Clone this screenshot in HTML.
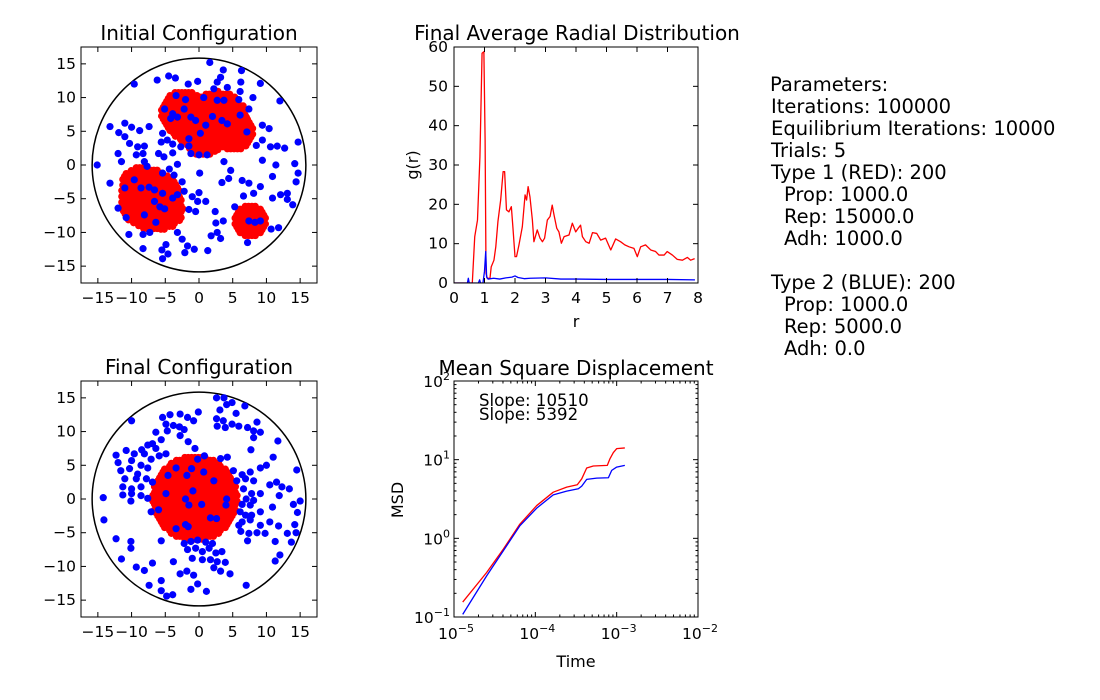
<!DOCTYPE html>
<html><head><meta charset="utf-8"><style>
html,body{margin:0;padding:0;background:#fff;}
svg{display:block;font-family:"DejaVu Sans","Liberation Sans",sans-serif;}
</style></head><body>
<svg id="fig" width="1100" height="700" viewBox="0 0 1100 700" xmlns="http://www.w3.org/2000/svg">
<rect width="1100" height="700" fill="#fff"/>
<g id="params" font-size="19.5" fill="#000">
<text x="770" y="91">Parameters:</text>
<text x="771" y="113">Iterations: 100000</text>
<text x="771" y="135">Equilibrium Iterations: 10000</text>
<text x="771" y="157">Trials: 5</text>
<text x="771" y="179">Type 1 (RED): 200</text>
<text x="784" y="201">Prop: 1000.0</text>
<text x="784" y="223">Rep: 15000.0</text>
<text x="784" y="245">Adh: 1000.0</text>
<text x="771" y="289">Type 2 (BLUE): 200</text>
<text x="784" y="311">Prop: 1000.0</text>
<text x="784" y="333">Rep: 5000.0</text>
<text x="784" y="355">Adh: 0.0</text>
</g>
</svg>
<script>
// ---------- data ----------
const initBlueX=[1.6,3.6,6.3,-6.2,-4.5,-3.5,-9.6,-1.6,-0.2,3.2,2.7,4.2,6.2,9.1,6.1,8.0,12.0,2.2,-3.4,-2.0,0.7,2.7,3.7,5.9,7.4,-5.1,-3.9,-2.2,-1.2,-0.5,2.0,3.4,4.2,6.1,1.0,-3.2,-4.2,-13.2,-11.0,-10.0,-8.8,-7.4,-11.9,-11.0,-10.3,-9.1,-8.1,-9.3,-8.3,-12.0,-11.5,-8.1,-7.7,-5.4,-4.7,-3.9,-5.6,-3.9,-2.7,-1.5,0,-1.2,1.2,0.2,-1.5,-6.0,-5.2,-3.2,-15.1,3.7,7.1,8.5,9.4,10.4,9.4,10.6,11.6,9.4,11.4,12.7,14.2,14.7,-4.4,-5.4,-3.7,-2.5,0.1,4.7,4.4,3.4,6.4,7.4,9.1,10.9,14.7,14.4,-13.2,-2.2,-1.0,-0.2,1.0,0,-3.2,6.6,8.1,10.9,12.1,13.1,13.9,13.1,5.3,-1.5,-0.5,2.4,2.5,3.6,-12.0,-10.8,-10.4,-8.3,-7.3,-3.2,-2.5,-1.7,-0.7,-2.1,1.3,2.7,1.8,3.2,7.2,10.7,11.8,-8.3,-5.5,-4.9,-4.6,-5.4,-6.6,-5.4,-3.9,-5.1,-5.8,-6.6,-6.4,-8.1,-11.0,-9.6,-8.6,-7.4,8.3,7.4,9.1];
const initBlueY=[15.2,14.1,14.0,12.6,13.2,12.9,12.0,12.0,12.4,13.0,12.3,11.5,12.3,12.1,10.9,10.0,9.5,11.3,10.3,9.7,10.0,9.6,9.6,9.7,8.3,8.3,7.6,8.3,7.1,6.6,7.2,6.6,6.1,7.4,5.9,7.1,6.9,5.7,6.2,5.6,5.1,5.7,4.8,4.2,3.2,2.7,2.8,1.5,1.7,1.7,0.5,0.5,-0.2,4.7,3.7,3.1,3.4,1.8,2.7,2.8,1.5,1.7,1.5,4.7,3.9,1.7,1.2,0.1,0,0.5,4.9,2.9,3.7,5.4,5.9,2.7,2.8,0.7,0,2.5,0.2,3.4,-0.6,-1.2,-1.5,-2.5,-1.2,-0.8,-2.0,-2.6,-2.3,-2.7,-3.2,-1.7,-1.2,-2.5,-2.7,-3.9,-4.7,-5.4,-5.4,-4.1,-4.4,-4.6,-4.2,-4.9,-4.4,-4.2,-5.9,-5.1,-6.2,-6.6,-6.9,-6.9,-8.6,-8.3,-6.4,-7.8,-10.3,-10.3,-10.0,-10.0,-11.0,-12.0,-12.5,-13.0,-12.7,-10.0,-10.5,-10.9,-11.5,-9.5,-9.3,-12.4,-12.6,-11.8,-13.2,-13.9,-3.7,-4.2,-4.9,-6.5,-6.2,-5.4,-8.5,-7.4,-3.4,-2.2,-3.4,-3.3,-8.5,-8.3,-8.3];
const initClusterX=[-2.3,2.8,5.2,0.6,-1.0,-7.2,-8.8,-5.4,7.6];
const initClusterY=[7.7,6.6,5.0,4.2,6.0,-5.1,-3.0,-6.5,-8.3];
const initClusterR=[3.9,4.8,3.3,3.3,3.5,4.9,3.2,3.5,2.8];
const finalBlueX=[2.6,3.7,4.9,6.8,4.1,3.1,5.5,2.6,3.6,3.9,4.9,5.9,2.7,7.2,8.6,8.1,9.1,8.1,11.7,7.7,-10.0,-5.4,-4.3,-2.8,-1.7,-0.1,-0.8,-4.9,-3.8,-2.9,-2.2,-6.4,-4.7,-2.8,-5.6,-1.6,-0.6,-7.6,-6.9,-8.5,-6.4,-4.9,-12.3,-10.8,-9.6,-8.1,-7.1,-5.9,-12.0,-10.0,-8.6,-11.6,-10.3,-9.1,-7.6,-11.0,-9.3,-7.8,-6.9,-11.3,-10.0,-8.6,-11.3,-10.0,-8.6,-7.6,-10.1,-14.2,-14.1,-7.1,-6.0,-0.2,0.8,3.2,4.2,-3.4,-1.1,0.7,-4.6,-1.8,2.2,-0.9,-4.9,-2.0,-1.5,0.4,4.1,4.0,1.7,2.6,-3.4,-2.0,-1.6,5.1,6.4,7.6,9.1,10.0,11.0,14.5,5.6,6.9,8.1,10.5,11.5,12.3,13.4,6.6,7.8,9.1,7.0,8.1,6.4,7.6,9.1,6.1,6.9,7.8,6.4,7.6,9.1,5.9,6.2,7.4,8.6,9.8,10.5,11.8,10.9,11.9,14.0,15.0,14.6,14.2,13.1,14.4,13.7,11.3,12.0,11.3,7.2,-12.3,-10.1,-10.1,-11.5,-5.6,-2.2,-1.2,-0.2,1.0,2.0,-1.7,-0.5,0.5,1.5,2.5,3.4,-1.0,0.5,1.7,2.7,3.9,-3.8,-6.9,-9.3,-8.1,2.2,3.2,4.6,-2.8,-1.8,-0.8,-0.2,-5.6,-7.4,-1.2,1.1,7.0,-5.6,-4.8,-3.9];
const finalBlueY=[15.0,15.0,14.3,13.8,14.0,13.2,12.7,11.9,11.6,10.6,11.1,10.8,10.8,10.6,11.4,10.1,9.9,9.1,8.6,7.3,11.6,12.1,12.5,12.6,12.1,12.9,11.6,11.1,10.9,10.7,10.3,9.9,10.1,9.4,8.8,8.5,7.5,8.0,8.2,7.3,7.5,6.7,6.5,7.2,6.7,6.7,5.9,6.4,5.4,5.7,5.0,4.2,4.5,3.7,4.6,3.0,3.0,3.0,2.5,1.8,1.5,1.8,0.6,0.8,0.5,0.1,-0.3,0.2,-3.1,-1.9,-1.6,5.9,6.4,6.0,6.2,4.6,4.5,4.0,3.5,3.5,2.7,1.2,0.8,0,-0.9,-0.8,0,-0.9,-2.8,-2.9,-4.4,-3.8,-4.1,4.2,3.6,4.0,4.6,5.0,6.2,4.3,2.7,3.0,2.7,2.1,2.5,1.8,1.5,1.5,0.8,0.8,0,-0.2,-0.8,-0.9,-1.9,-1.9,-2.4,-2.4,-3.4,-3.1,-3.9,-3.9,-4.8,-5.1,-5.0,-5.1,-3.4,-4.0,-1.2,0.5,-0.8,-0.3,-2.0,-3.8,-5.1,-5.0,-6.4,-6.3,-8.3,-9.2,-6.2,-5.9,-6.3,-7.3,-8.9,-6.2,-6.6,-6.3,-6.1,-6.4,-6.6,-7.5,-7.3,-7.8,-7.3,-8.0,-7.8,-8.8,-9.0,-9.0,-9.3,-9.4,-9.3,-9.5,-10.1,-10.6,-10.2,-10.7,-11.1,-11.1,-10.7,-11.3,-12.6,-12.1,-12.8,-13.4,-13.7,-12.8,-13.6,-14.4,-14.2];
const finalClusterX=[-0.6];
const finalClusterY=[0.1];
const finalClusterR=[6.8];
const rdfRedR=[0,0.60,0.68,0.77,0.85,0.92,0.98,1.02,1.05,1.09,1.18,1.22,1.31,1.37,1.44,1.53,1.61,1.66,1.72,1.80,1.88,1.93,2.00,2.05,2.13,2.24,2.33,2.38,2.43,2.49,2.57,2.62,2.73,2.82,2.90,2.97,3.06,3.15,3.22,3.28,3.37,3.44,3.52,3.61,3.77,3.88,3.99,4.07,4.15,4.21,4.32,4.43,4.54,4.68,4.81,4.97,5.14,5.30,5.46,5.60,5.74,5.90,6.01,6.12,6.28,6.45,6.61,6.72,6.89,6.99,7.16,7.32,7.49,7.65,7.76,7.89];
const rdfRedG=[0,0,11.8,16.0,32.1,58.4,58.8,36.3,2.5,1.2,1.2,4.1,5.8,9.2,15.6,21.1,28.3,28.3,18.6,18.1,19.4,14.3,6.7,6.7,9.7,14.3,22.4,21.1,24.5,21.9,16.0,10.5,13.5,11.4,10.5,11.4,16.0,16.9,19.8,17.3,13.9,13.0,10.1,11.8,12.2,15.2,13.0,13.9,14.7,11.8,10.5,10.1,12.8,12.6,10.9,11.4,8.4,11.2,10.5,9.7,9.2,8.8,6.7,9.2,9.7,8.4,8.0,7.1,7.1,8.0,7.1,6.0,5.8,6.5,5.8,6.2];
const rdfBlueR=[0,0.44,0.47,0.5,0.8,0.84,0.87,0.95,1.0,1.04,1.07,1.12,1.3,1.5,1.7,1.9,2.0,2.1,2.3,2.5,3.0,3.5,4.0,5.0,6.0,7.0,7.9];
const rdfBlueG=[0,0,1.2,0,0,0.8,0,0,3.0,8.0,1.5,1.0,1.2,1.0,1.3,1.5,1.8,1.4,1.1,1.2,1.3,1.0,1.0,0.9,0.9,0.9,0.8];
const msdRedT=[1.28e-5,2.52e-5,4.05e-5,6.47e-5,1.04e-4,1.66e-4,2.43e-4,3.28e-4,3.72e-4,4.28e-4,5.16e-4,7.67e-4,8.28e-4,9.10e-4,1.0e-3,1.26e-3];
const msdRedV=[0.155,0.368,0.731,1.52,2.61,3.86,4.48,4.80,5.71,7.83,8.30,8.47,10.3,12.3,13.8,14.1];
const msdBlueT=[1.28e-5,2.52e-5,4.05e-5,6.47e-5,1.04e-4,1.66e-4,2.43e-4,3.38e-4,3.72e-4,4.28e-4,5.68e-4,7.91e-4,8.69e-4,1.0e-3,1.26e-3];
const msdBlueV=[0.108,0.333,0.697,1.45,2.42,3.57,3.98,4.27,4.61,5.61,5.83,5.89,7.31,8.05,8.47];
const posTicks=[-15,-10,-5,0,5,10,15];
const rdfXTicks=[0,1,2,3,4,5,6,7,8];
const rdfYTicks=[0,10,20,30,40,50,60];
const msdXExp=[-5,-4,-3,-2];
const msdYExp=[-1,0,1,2];
const slopeLabels=["Slope: 10510","Slope: 5392"];

// ---------- helpers ----------
const NS="http://www.w3.org/2000/svg";
const fig=document.getElementById('fig');
function el(tag,attrs,parent){const e=document.createElementNS(NS,tag);for(const k in attrs)e.setAttribute(k,attrs[k]);(parent||fig).appendChild(e);return e;}
function txt(x,y,s,size,anchor,parent){const t=el('text',{x:x,y:y,'font-size':size,'text-anchor':anchor||'middle',fill:'#000'},parent);t.textContent=s;return t;}
function poly(xs,ys,fx,fy,color,parent){let d='';for(let i=0;i<xs.length;i++)d+=(i?'L':'M')+fx(xs[i]).toFixed(2)+','+fy(ys[i]).toFixed(2);return el('path',{d:d,fill:'none',stroke:color,'stroke-width':1.3,'stroke-linejoin':'round'},parent);}
function frame(x0,y0,w,h,parent){return el('rect',{x:x0,y:y0,width:w,height:h,fill:'none',stroke:'#000','stroke-width':1},parent);}

// ---------- scatter panels ----------
function scatter(name,title,X0,Y0,bx,by,cx,cy,cr){
  const g=el('g',{});
  
  
  const W=236,H=236;
  const sx=v=>X0+(v+17.5)/35*W, sy=v=>Y0+H-(v+17.5)/35*H;
  const clip=el('clipPath',{id:'c'+name},g);el('rect',{x:X0,y:Y0,width:W,height:H},clip);
  const pg=el('g',{'clip-path':'url(#c'+name+')'},g);
  const bd=el('circle',{cx:sx(0),cy:sy(0),r:15.85/35*W,fill:'none',stroke:'#000','stroke-width':1.5},pg);
  
  
  const step=0.5;
  for(let k=0;k<cx.length;k++){
    const rr=cr[k]-0.45;
    for(let j=-20;j<=20;j++){for(let i=-20;i<=20;i++){
      const px=cx[k]+(i+(Math.abs(j)%2?0.5:0))*step, py=cy[k]+j*step*0.866;
      if((px-cx[k])**2+(py-cy[k])**2<=rr*rr){
        const c=el('circle',{cx:sx(px),cy:sy(py),r:3.6,fill:'#ff0000'},pg);
        
        
      }}}
  }
  for(let i=0;i<bx.length;i++){
    const c=el('circle',{cx:sx(bx[i]),cy:sy(by[i]),r:3.6,fill:'#0000ff'},pg);
    
    
  }
  frame(X0,Y0,W,H,g);
  posTicks.forEach(t=>{
    const x=sx(t),y=sy(t);
    el('line',{x1:x,y1:Y0+H,x2:x,y2:Y0+H-5,stroke:'#000'},g);
    el('line',{x1:x,y1:Y0,x2:x,y2:Y0+5,stroke:'#000'},g);
    el('line',{x1:X0,y1:y,x2:X0+5,y2:y,stroke:'#000'},g);
    el('line',{x1:X0+W,y1:y,x2:X0+W-5,y2:y,stroke:'#000'},g);
    const xl=txt(x,Y0+H+20,String(t).replace('-','\u2212'),15.5,'middle',g);
    
    
    const yl=txt(X0-5,y+5,String(t).replace('-','\u2212'),15.5,'end',g);
    
    
  });
  const tt=txt(X0+W/2,Y0-7,title,20,'middle',g);
  
  
}
scatter('initial-configuration-panel','Initial Configuration',81,47,initBlueX,initBlueY,initClusterX,initClusterY,initClusterR);
scatter('final-configuration-panel','Final Configuration',81,381,finalBlueX,finalBlueY,finalClusterX,finalClusterY,finalClusterR);

// ---------- RDF ----------
(function(){
  const g=el('g',{});
  
  
  const X0=454,Y0=47,W=244,H=236;
  const sx=v=>X0+v/8*W, sy=v=>Y0+H-v/60*H;
  const clip=el('clipPath',{id:'crdf'},g);el('rect',{x:X0,y:Y0-1,width:W,height:H+1},clip);
  const pg=el('g',{'clip-path':'url(#crdf)'},g);
  const r=poly(rdfRedR,rdfRedG,sx,sy,'#ff0000',pg);
  
  
  const b=poly(rdfBlueR,rdfBlueG,sx,sy,'#0000ff',pg);
  
  
  frame(X0,Y0,W,H,g);
  rdfXTicks.forEach(t=>{const x=sx(t);
    el('line',{x1:x,y1:Y0+H,x2:x,y2:Y0+H-5,stroke:'#000'},g);el('line',{x1:x,y1:Y0,x2:x,y2:Y0+5,stroke:'#000'},g);
    const l=txt(x,Y0+H+20,String(t),15.5,'middle',g);
    
    });
  rdfYTicks.forEach(t=>{const y=sy(t);
    el('line',{x1:X0,y1:y,x2:X0+5,y2:y,stroke:'#000'},g);el('line',{x1:X0+W,y1:y,x2:X0+W-5,y2:y,stroke:'#000'},g);
    const l=txt(X0-6,y+5,String(t),15.5,'end',g);
    
    });
  const t=txt(577,Y0-7,'Final Average Radial Distribution',20,'middle',g);
  
  
  const xl=txt(X0+W/2,327,'r',16,'middle',g);
  
  
  const yl=txt(0,0,'g(r)',16,'middle',g);yl.setAttribute('transform','translate(418,165) rotate(-90)');
  
  
})();

// ---------- MSD ----------
(function(){
  const g=el('g',{});
  
  
  const X0=454,Y0=381,W=244,H=236;
  const sx=v=>X0+(Math.log10(v)+5)/3*W, sy=v=>Y0+H-(Math.log10(v)+1)/3*H;
  const r=poly(msdRedT,msdRedV,sx,sy,'#ff0000',g);
  
  
  const b=poly(msdBlueT,msdBlueV,sx,sy,'#0000ff',g);
  
  
  frame(X0,Y0,W,H,g);
  msdXExp.forEach((e,i)=>{
    const x=sx(Math.pow(10,e));
    el('line',{x1:x,y1:Y0+H,x2:x,y2:Y0+H-5,stroke:'#000'},g);el('line',{x1:x,y1:Y0,x2:x,y2:Y0+5,stroke:'#000'},g);
    if(i<msdXExp.length-1)for(let m=2;m<10;m++){const xm=sx(m*Math.pow(10,e));
      el('line',{x1:xm,y1:Y0+H,x2:xm,y2:Y0+H-2.5,stroke:'#000'},g);el('line',{x1:xm,y1:Y0,x2:xm,y2:Y0+2.5,stroke:'#000'},g);}
    const t=el('text',{x:x+2,y:Y0+H+22,'font-size':15.5,'text-anchor':'middle',fill:'#000'},g);
    
    
    t.innerHTML='10<tspan font-size="11" dy="-7">'+String(e).replace('-','\u2212')+'</tspan>';
  });
  msdYExp.forEach((e,i)=>{
    const y=sy(Math.pow(10,e));
    el('line',{x1:X0,y1:y,x2:X0+5,y2:y,stroke:'#000'},g);el('line',{x1:X0+W,y1:y,x2:X0+W-5,y2:y,stroke:'#000'},g);
    if(i<msdYExp.length-1)for(let m=2;m<10;m++){const ym=sy(m*Math.pow(10,e));
      el('line',{x1:X0,y1:ym,x2:X0+2.5,y2:ym,stroke:'#000'},g);el('line',{x1:X0+W,y1:ym,x2:X0+W-2.5,y2:ym,stroke:'#000'},g);}
    const t=el('text',{x:X0-4,y:y+6,'font-size':15.5,'text-anchor':'end',fill:'#000'},g);
    
    
    t.innerHTML='10<tspan font-size="11" dy="-7">'+String(e).replace('-','\u2212')+'</tspan>';
  });
  slopeLabels.forEach((s,i)=>{const t=txt(479,406+i*14,s,16.6,'start',g);
    
    });
  const tt=txt(576,Y0-6,'Mean Square Displacement',20,'middle',g);
  
  
  const xl=txt(X0+W/2,667,'Time',16,'middle',g);
  
  
  const yl=txt(0,0,'MSD',16,'middle',g);yl.setAttribute('transform','translate(403,500) rotate(-90)');
  
  
})();
</script>
</body></html>
